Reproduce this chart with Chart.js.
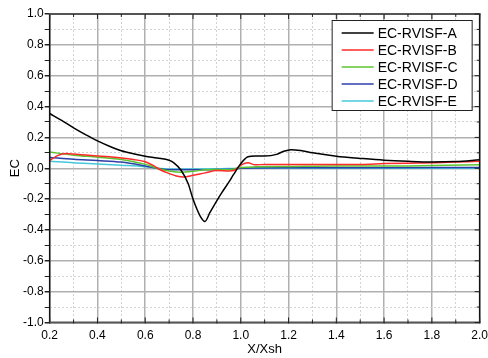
<!DOCTYPE html>
<html>
<head>
<meta charset="utf-8">
<script src="https://cdn.jsdelivr.net/npm/chart.js@4"></script>
<style>
  html, body { margin: 0; padding: 0; background: #fff; }
  #wrap { width: 488px; height: 358px; }
</style>
</head>
<body>
<div id="wrap"><canvas id="ecChart"></canvas></div>
<script>
// Series data
const labels = ['EC-RVISF-A', 'EC-RVISF-B', 'EC-RVISF-C', 'EC-RVISF-D', 'EC-RVISF-E'];

const xA = [0.2, 0.25, 0.3, 0.35, 0.4, 0.45, 0.5, 0.55, 0.6, 0.65, 0.7, 0.72, 0.75, 0.78, 0.8, 0.83, 0.85, 0.87, 0.9, 0.92, 0.95, 0.97, 1.0, 1.03, 1.06, 1.1, 1.15, 1.18, 1.21, 1.25, 1.3, 1.4, 1.5, 1.6, 1.7, 1.8, 1.9, 2.0];
const yA = [0.355, 0.31, 0.262, 0.218, 0.177, 0.143, 0.114, 0.094, 0.078, 0.066, 0.052, 0.035, -0.013, -0.1, -0.2, -0.31, -0.345, -0.29, -0.21, -0.16, -0.09, -0.04, 0.03, 0.075, 0.08, 0.08, 0.09, 0.11, 0.12, 0.115, 0.1, 0.078, 0.064, 0.052, 0.045, 0.041, 0.044, 0.055];

const xB = [0.2, 0.23, 0.27, 0.3, 0.35, 0.4, 0.45, 0.5, 0.55, 0.6, 0.63, 0.66, 0.7, 0.73, 0.76, 0.8, 0.85, 0.9, 0.95, 0.97, 1.0, 1.03, 1.06, 1.1, 1.2, 1.3, 1.4, 1.5, 1.6, 1.7, 1.8, 1.9, 2.0];
const yB = [0.05, 0.08, 0.095, 0.092, 0.086, 0.08, 0.074, 0.067, 0.057, 0.042, 0.02, -0.008, -0.034, -0.05, -0.057, -0.046, -0.03, -0.015, -0.018, -0.015, 0.02, 0.035, 0.022, 0.025, 0.025, 0.025, 0.025, 0.025, 0.03, 0.033, 0.035, 0.04, 0.045];

const xC = [0.2, 0.3, 0.4, 0.5, 0.6, 0.65, 0.7, 0.75, 0.8, 0.85, 0.9, 0.95, 1.0, 1.2, 1.4, 1.6, 1.8, 2.0];
const yC = [0.105, 0.085, 0.072, 0.057, 0.025, 0.0, -0.018, -0.026, -0.02, -0.01, -0.008, -0.01, 0.005, 0.012, 0.015, 0.015, 0.018, 0.022];

const xD = [0.2, 0.3, 0.4, 0.5, 0.6, 0.65, 0.7, 0.8, 0.9, 0.97, 1.0, 1.2, 1.5, 2.0];
const yD = [0.07, 0.058, 0.05, 0.04, 0.015, 0.0, -0.01, -0.01, -0.008, -0.005, 0.0, 0.003, 0.003, 0.005];

const xE = [0.2, 0.3, 0.4, 0.5, 0.6, 0.65, 0.7, 0.8, 0.9, 1.0, 1.2, 1.5, 2.0];
const yE = [0.045, 0.035, 0.028, 0.02, 0.01, 0.0, -0.005, -0.005, -0.004, 0.0, 0.0, 0.0, 0.0];

const xTickLabels = ['0.2', '0.4', '0.6', '0.8', '1.0', '1.2', '1.4', '1.6', '1.8', '2.0'];
const yTickLabels = ['-1.0', '-0.8', '-0.6', '-0.4', '-0.2', '0.0', '0.2', '0.4', '0.6', '0.8', '1.0'];

const colors = ['#000000', '#ff2a2a', '#5cc42c', '#2c3fa8', '#45c8dc'];

const toPoints = (xs, ys) => xs.map((x, i) => ({ x: x, y: ys[i] }));
const seriesX = [xA, xB, xC, xD, xE];
const seriesY = [yA, yB, yC, yD, yE];

const FONT = "'Liberation Sans', Arial, sans-serif";

// major = every 0.2, minor = the 0.1 in between
const isMajor = (v) => Math.round(v * 10) % 2 === 0;
const tickLabel = (list) => (v) => {
    const s = (Math.round(v * 10) / 10).toFixed(1);
    return isMajor(v) && list.includes(s) ? s : '';
};
const gridColor = (ctx) => isMajor(ctx.tick.value) ? '#b0b0b0' : '#d2d2d2';
const gridWidth = (ctx) => isMajor(ctx.tick.value) ? 1.5 : 1;
const gridDash = (ctx) => (ctx.tick && !isMajor(ctx.tick.value)) ? [2, 2] : [];

// box frame + inward ticks on top, bottom and right
const framePlugin = {
    id: 'frame',
    afterDatasetsDraw(chart) {
        const { ctx, chartArea: a, scales } = chart;
        ctx.save();
        ctx.lineWidth = 1.5;
        ctx.strokeStyle = '#111';
        ctx.beginPath();
        ctx.moveTo(a.left, a.top); ctx.lineTo(a.left, a.bottom);
        ctx.moveTo(a.right, a.top); ctx.lineTo(a.right, a.bottom);
        ctx.stroke();
        ctx.lineWidth = 2;
        ctx.strokeStyle = '#555';
        ctx.beginPath();
        ctx.moveTo(a.left - 1, a.top); ctx.lineTo(a.right + 1, a.top);
        ctx.moveTo(a.left - 1, a.bottom); ctx.lineTo(a.right + 1, a.bottom);
        ctx.stroke();
        ctx.lineWidth = 1;
        ctx.strokeStyle = '#222';
        scales.x.ticks.forEach(t => {
            const px = scales.x.getPixelForValue(t.value);
            const len = isMajor(t.value) ? 5 : 3;
            ctx.beginPath();
            ctx.moveTo(px, a.top);
            ctx.lineTo(px, a.top + len);
            ctx.moveTo(px, a.bottom + 1);
            ctx.lineTo(px, a.bottom - len);
            ctx.stroke();
        });
        scales.y.ticks.forEach(t => {
            const py = scales.y.getPixelForValue(t.value);
            const len = isMajor(t.value) ? 5 : 3;
            ctx.beginPath();
            ctx.moveTo(a.right, py);
            ctx.lineTo(a.right - len, py);
            ctx.stroke();
        });
        ctx.restore();
    }
};

// legend box inside the plot, top right
const legendPlugin = {
    id: 'boxLegend',
    afterDraw(chart) {
        const { ctx, chartArea: a } = chart;
        const w = 140, h = 90;
        const left = a.right - w - 8;
        const top = a.top + 6;
        ctx.save();
        ctx.fillStyle = '#fff';
        ctx.fillRect(left, top, w, h);
        ctx.strokeStyle = '#222';
        ctx.lineWidth = 1;
        ctx.strokeRect(left + 0.5, top + 0.5, w, h);
        ctx.font = '14px ' + FONT;
        ctx.textBaseline = 'middle';
        chart.data.datasets.forEach((ds, i) => {
            const y = top + 13 + i * 17;
            ctx.strokeStyle = ds.borderColor;
            ctx.lineWidth = 1.5;
            ctx.beginPath();
            ctx.moveTo(left + 10, y);
            ctx.lineTo(left + 42, y);
            ctx.stroke();
            ctx.fillStyle = '#000';
            ctx.fillText(ds.label, left + 46, y + 1);
        });
        ctx.restore();
    }
};

const ctx = document.getElementById('ecChart').getContext('2d');
new Chart(ctx, {
    type: 'line',
    data: {
        datasets: labels.map((lab, i) => ({
            label: lab,
            data: toPoints(seriesX[i], seriesY[i]),
            borderColor: colors[i],
            borderWidth: 1.5,
            pointRadius: 0,
            fill: false,
            cubicInterpolationMode: 'monotone'
        }))
    },
    options: {
        responsive: true,
        maintainAspectRatio: false,
        animation: false,
        layout: { padding: { left: 9, right: 7, top: 14, bottom: 2.5 } },
        plugins: {
            legend: { display: false },
            tooltip: { enabled: false }
        },
        scales: {
            x: {
                type: 'linear',
                min: 0.2,
                max: 2.0,
                ticks: {
                    stepSize: 0.1,
                    autoSkip: false,
                    maxRotation: 0,
                    padding: 0,
                    color: '#000',
                    font: { family: FONT, size: 12, lineHeight: 1 },
                    callback: tickLabel(xTickLabels)
                },
                grid: {
                    color: gridColor,
                    lineWidth: gridWidth,
                    tickColor: 'rgba(0,0,0,0)',
                    tickLength: 7
                },
                border: { display: false, dash: gridDash },
                title: {
                    display: true,
                    text: 'X/Xsh',
                    color: '#000',
                    font: { family: FONT, size: 13, lineHeight: 1 },
                    padding: { top: 1, bottom: 0 }
                }
            },
            y: {
                min: -1.0,
                max: 1.0,
                ticks: {
                    stepSize: 0.1,
                    autoSkip: false,
                    padding: 1,
                    color: '#000',
                    font: { family: FONT, size: 12 },
                    callback: tickLabel(yTickLabels)
                },
                grid: {
                    color: gridColor,
                    lineWidth: gridWidth,
                    tickColor: '#222',
                    tickLength: 5
                },
                border: { display: false, dash: gridDash },
                title: {
                    display: true,
                    text: 'EC',
                    color: '#000',
                    font: { family: FONT, size: 13, lineHeight: 1 },
                    padding: { top: 0, bottom: 0 }
                }
            }
        }
    },
    plugins: [framePlugin, legendPlugin]
});
</script>
</body>
</html>
